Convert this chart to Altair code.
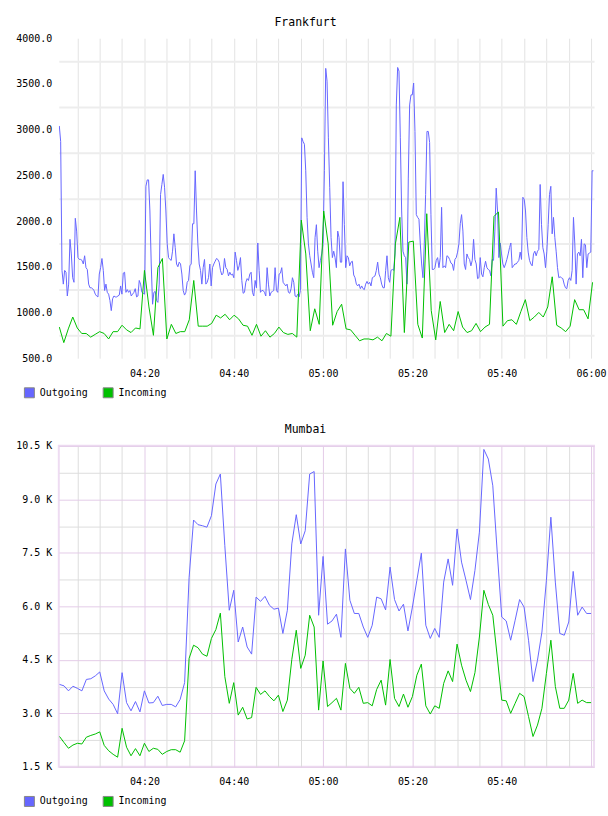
import altair as alt
import pandas as pd

DAY = "2024-01-01"
MONO = "DejaVu Sans Mono"

SERIES = ["Outgoing", "Incoming"]
COLORS = ["#6666ff", "#00c000"]

# Frankfurt, outgoing traffic (fine-grained samples)
FRA_OUT = [
    3040, 2870, 1460, 1310, 1460, 1440, 1180, 1310, 1800, 1640,
    1380, 1330, 2030, 1890, 1600, 1580, 1580, 1570, 1530, 1620,
    1490, 1470, 1310, 1270, 1270, 1260, 1240, 1200, 1180, 1170,
    1420, 1490, 1590, 1460, 1240, 1310, 1220, 1200, 1130, 1020,
    1150, 1180, 1170, 1170, 1180, 1190, 1290, 1200, 1430, 1440,
    1220, 1250, 1220, 1240, 1180, 1200, 1220, 1260, 1170, 1180,
    1350, 1310, 1220, 1210, 1200, 2380, 2450, 2450, 2110, 1530,
    1090, 1220, 1230, 1130, 1110, 1310, 2290, 2400, 2510, 2370,
    2110, 1750, 1600, 1580, 1570, 1670, 1860, 1710, 1530, 1500,
    1550, 1530, 1420, 1240, 1190, 1220, 1330, 1350, 1510, 1530,
    1970,
    1970, 2550, 2110, 1750, 1530, 1460, 1310, 1490, 1580, 1310,
    1330, 1380, 1530, 1290, 1490, 1530, 1560, 1590, 1580, 1550,
    1460, 1410, 1430, 1590, 1490, 1470, 1400, 1440, 1410, 1420,
    1380, 1660, 1570, 1460, 1510, 1600, 1350, 1210, 1220, 1330,
    1370, 1350, 1420, 1440, 1220, 1180, 1350, 1270, 1760, 1460,
    1220, 1240, 1240, 1220, 1180, 1490, 1310, 1180, 1220, 1230,
    1240, 1490, 1240, 1220, 1420, 1430, 1490, 1330, 1310, 1290,
    1310, 1220, 1210, 1260, 1380, 1330, 1180, 1170, 1200, 1170,
    1240, 2910, 2870, 2840, 2550, 2040, 1750, 1620, 1530, 1440,
    1380, 1820, 1960, 1670, 1490, 1570, 1640, 1750, 2550, 3670,
    3530,
    2910, 2370, 1820, 1600, 1670, 1600, 1490, 1890, 1820, 1550,
    1550, 2430, 1960, 1490, 1620, 1600, 1510, 1550, 1560, 1410,
    1380, 1310, 1290, 1310, 1260, 1290, 1260, 1250, 1310, 1340,
    1310, 1330, 1290, 1380, 1390, 1400, 1460, 1550, 1420, 1380,
    1310, 1270, 1270, 1460, 1620, 1380, 1330, 1460, 1470, 1460,
    1640, 3270, 3680, 3640, 2910, 2110, 1670, 1620, 1600, 1310,
    2470, 3270, 3380, 3380, 3510, 2980, 2070, 2040, 2020, 1750,
    1530, 1380, 1750, 2290, 2980, 2980, 2860, 2070, 1470, 1470,
    1490, 1570, 1600, 1490, 1600, 2150, 1490, 1510, 1490, 1620,
    1610, 1580, 1540, 1530, 1460, 1580, 1600, 1660, 1750, 1970,
    2070,
    1890, 1530, 1470, 1640, 1600, 1580, 1510, 1570, 1800, 1580,
    1530, 1370, 1380, 1600, 1420, 1390, 1490, 1560, 1490, 1470,
    1460, 1400, 1580, 1570, 1890, 2360, 2110, 1600, 1760, 1640,
    1530, 1490, 1530, 1580, 1640, 1710, 1760, 1490, 1510, 1530,
    1530, 1550, 1570, 1660, 1580, 2260, 2240, 2110, 1820, 1660,
    1570, 1530, 1510, 1640, 1670, 1620, 1670, 1690, 2400, 1960,
    1710, 1640, 1490, 1670, 1960, 2290, 2380, 1860, 2040, 1820,
    1670, 1490, 1380, 1390, 1380, 1370, 1310, 1270, 1260, 1350,
    1380, 1350, 1460, 2040, 1750, 1310, 1640, 1660, 1620, 1800,
    1380, 1750, 1740, 1490, 1640, 1650, 1660, 2550, 2550,
]

# Frankfurt, incoming traffic (one sample per minute)
FRA_IN = [
    840, 670, 820, 950, 830, 770, 770, 730, 760, 790,
    770, 710, 790, 790, 860, 810, 780, 830, 820, 1460,
    1060, 750, 1490, 1590, 710, 870, 770, 790, 790, 920,
    1350, 850, 850, 850, 880, 970, 940, 980, 920, 970,
    930, 860, 850, 750, 870, 740, 800, 730, 770, 840,
    780, 760, 770, 730, 2010, 1640, 800, 1040, 870, 2110,
    1750, 860, 1010, 1090, 820, 810, 750, 690, 710, 710,
    700, 730, 690, 770, 740, 1750, 2040, 780, 1770, 1780,
    870, 720, 2080, 1020, 700, 1120, 780, 870, 800, 1010,
    840, 780, 800, 880, 790, 840, 870, 2050, 2100, 850,
    910, 920, 870, 1010, 1140, 910, 950, 1000, 950, 1060,
    1390, 860, 830, 790, 850, 1140, 1030, 1030, 930, 1330,
]

# Mumbai, outgoing traffic (one sample per minute)
MUM_OUT = [
    3810, 3770, 3630, 3760, 3700, 3630, 3950, 3970, 4050, 4160,
    3630, 3400, 3250, 2990, 4140, 3300, 3070, 3330, 3040, 3630,
    3290, 3300, 3480, 3220, 3250, 3250, 3180, 3390, 3860, 6800,
    8420, 8290, 8260, 8220, 8540, 9430, 9710, 7700, 5890, 6450,
    5000, 5420, 4860, 4660, 6260, 6140, 6280, 6030, 5920, 5950,
    5240, 5890, 7750, 8570, 7750, 8120, 9710, 9780, 5750, 7400,
    5500, 5590, 5780, 5130, 7610, 6170, 5800, 5800, 5420, 5130,
    5470, 6260, 6210, 5900, 7100, 6190, 5870, 6060, 5310, 5980,
    6730, 7490, 5470, 5100, 5380, 5130, 6680, 7330, 6590, 8170,
    7240, 6730, 6190, 7010, 8080, 10400, 10130, 9380, 7500, 5700,
    5590, 5050, 5610, 6190, 5980, 5050, 3890, 4490, 5280, 6730,
    8500, 6680, 5240, 5190, 5560, 6980, 5750, 5980, 5800, 5800,
]

# Mumbai, incoming traffic (one sample per minute)
MUM_IN = [
    2350, 2180, 2020, 2110, 2160, 2140, 2330, 2380, 2420, 2480,
    2100, 1950, 1850, 1770, 2580, 2050, 1810, 2010, 1810, 2160,
    1930, 2020, 1990, 1850, 1930, 1980, 1980, 1910, 2230, 4540,
    4910, 4840, 4660, 4600, 5100, 5350, 5810, 4030, 3280, 3860,
    2950, 3170, 2840, 2880, 3730, 3530, 3630, 3470, 3350, 3510,
    3050, 3370, 4510, 5330, 4260, 4630, 5750, 5420, 3090, 4470,
    3190, 3300, 3420, 3090, 4400, 3700, 3560, 3730, 3280, 3300,
    3210, 3670, 3930, 3230, 4510, 3420, 3190, 3540, 3170, 3470,
    4070, 4380, 3210, 2980, 3210, 3140, 3840, 4190, 3890, 4940,
    4350, 3930, 3610, 4140, 5140, 6450, 6050, 5750, 4580, 3370,
    3350, 3000, 3280, 3560, 3470, 2910, 2350, 2670, 3140, 4120,
    5050, 3750, 3140, 3140, 3370, 4120, 3280, 3370, 3300, 3300,
]

# sampling windows of each series (first and last sample)
FRA_OUT_SPAN = ("04:00:57", "06:00:32")
FRA_IN_SPAN = ("04:00:57", "06:00:20")
MUM_SPAN = ("04:01:00", "06:00:00")

HUE = dict(zip(SERIES, COLORS))


def series_frame(values, span, name):
    times = pd.date_range(f"{DAY} {span[0]}", f"{DAY} {span[1]}", periods=len(values))
    return pd.DataFrame({"time": times, "value": values, "series": name, "hue": HUE[name]})


def clock(h, m, s=0):
    return alt.DateTime(year=2024, month=1, date=1, hours=h, minutes=m, seconds=s)


X_DOMAIN = [clock(4, 0, 50), clock(6, 0, 40)]
FIVE_MIN = [clock(4 + (5 * i) // 60, (5 * i) % 60) for i in range(1, 25)]

PLOT_W = 537


def panel(name, frames, height, y_domain, y_step, y_label_expr, y_grid_color,
          y_grid_width, x_label_expr, x_grid_color, view_stroke):
    data = pd.concat(frames, ignore_index=True)

    x_axis = alt.Axis(
        values=FIVE_MIN, format="%H:%M", labelExpr=x_label_expr,
        grid=True, gridColor=x_grid_color, gridWidth=1,
        domain=False, ticks=False, tickSize=0, labelPadding=10,
        labelFont=MONO, labelFontSize=10, labelColor="#000000",
        labelFlush=False, labelOverlap=False, title=None,
    )
    y_axis = alt.Axis(
        values=list(range(y_domain[0], y_domain[1] + 1, y_step)),
        labelExpr=y_label_expr,
        grid=True, gridColor=y_grid_color, gridWidth=y_grid_width,
        domain=False, ticks=False, tickSize=0, labelPadding=7,
        labelFont=MONO, labelFontSize=10, labelColor="#000000",
        labelFlush=False, labelOverlap=False, title=None,
        minExtent=43, maxExtent=43,
    )
    x_enc = alt.X("time:T", scale=alt.Scale(domain=X_DOMAIN), axis=x_axis)
    y_enc = alt.Y("value:Q", scale=alt.Scale(domain=list(y_domain)), axis=y_axis)

    # traffic lines, coloured directly from each series' hue
    lines = alt.Chart(data).mark_line(strokeWidth=1, clip=True).encode(
        x=x_enc,
        y=y_enc,
        color=alt.Color("hue:N", scale=None),
        detail="series:N",
    )

    # legend keys: one square per series, placed before the time window so
    # the clipped marks stay hidden and only the legend shows them
    key_rows = pd.DataFrame({
        "time": pd.to_datetime([f"{DAY} 03:00:00"] * len(SERIES)),
        "value": [y_domain[0]] * len(SERIES),
        "series": SERIES,
    })
    keys = alt.Chart(key_rows).mark_square(clip=True, size=100).encode(
        x=x_enc,
        y=y_enc,
        fill=alt.Fill(
            "series:N",
            scale=alt.Scale(domain=SERIES, range=COLORS),
            legend=alt.Legend(
                orient="none", legendX=-35, legendY=height + 29,
                direction="horizontal", title=None,
                symbolType="square", symbolSize=100, symbolOpacity=1,
                symbolStrokeColor="#888888", symbolStrokeWidth=1,
                labelFont=MONO, labelFontSize=10, labelColor="#000000",
                labelOffset=5, columnPadding=12, padding=0,
            ),
        ),
    )

    return alt.layer(lines, keys).properties(
        width=PLOT_W,
        height=height,
        title=alt.TitleParams(
            name, font=MONO, fontSize=11.5, fontWeight="normal", color="#000000",
            anchor="middle", dx=-21, offset=-4, baseline="alphabetic",
        ),
        view=alt.ViewBackground(stroke=view_stroke, strokeWidth=2),
    )


frankfurt = panel(
    "Frankfurt",
    [series_frame(FRA_OUT, FRA_OUT_SPAN, "Outgoing"),
     series_frame(FRA_IN, FRA_IN_SPAN, "Incoming")],
    height=321,
    y_domain=(500, 4000),
    y_step=250,
    y_label_expr="datum.value % 500 === 0 ? format(datum.value, '.1f') : ''",
    y_grid_color={"condition": {"test": "datum.value % 500 === 0", "value": "transparent"},
                  "value": "#ededed"},
    y_grid_width=2,
    x_label_expr="minutes(datum.value) % 20 === 0 ? datum.label : ''",
    x_grid_color="#e3e3e3",
    view_stroke="transparent",
)

mumbai = panel(
    "Mumbai",
    [series_frame(MUM_OUT, MUM_SPAN, "Outgoing"),
     series_frame(MUM_IN, MUM_SPAN, "Incoming")],
    height=322,
    y_domain=(1500, 10500),
    y_step=750,
    y_label_expr="datum.value % 1500 === 0 ? format(datum.value / 1000, '.1f') + ' K' : ''",
    y_grid_color={"condition": {"test": "datum.value % 1500 === 0", "value": "#e4cce8"},
                  "value": "#dddddd"},
    y_grid_width=1,
    x_label_expr="minutes(datum.value) % 20 === 0 && hours(datum.value) < 6 ? datum.label : ''",
    x_grid_color={"condition": {"test": "minutes(datum.value) % 20 === 0", "value": "#e4cce8"},
                  "value": "#dddddd"},
    view_stroke="#eedcf2",
)

chart = (
    alt.vconcat(frankfurt, mumbai, spacing=22)
    .resolve_scale(fill="independent")
    .resolve_legend(fill="independent")
    .properties(
        padding={"left": 14, "top": 14, "right": 0, "bottom": 0},
        background="#ffffff",
    )
)

chart.save("out.html", embed_options={"renderer": "svg", "actions": False})
